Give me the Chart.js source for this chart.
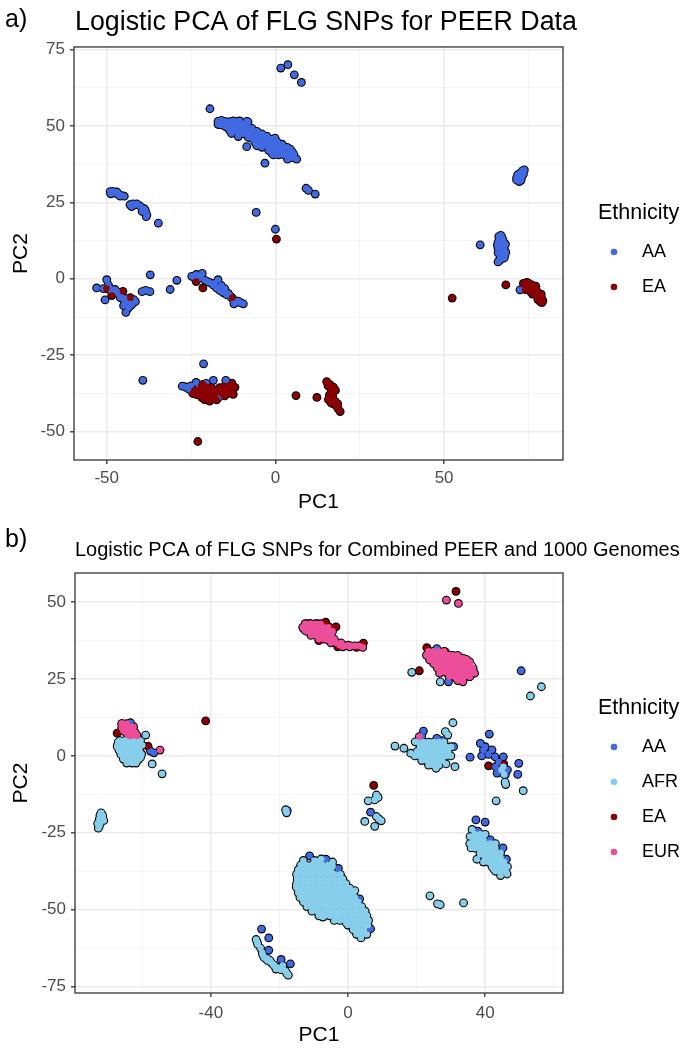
<!DOCTYPE html>
<html><head><meta charset="utf-8">
<script src="https://cdn.jsdelivr.net/npm/chart.js@4.4.1/dist/chart.umd.min.js"></script>
<style>
html,body{margin:0;padding:0;background:#fff;}
.panel{position:relative;width:687px;height:525px;}
canvas{display:block;}
</style></head>
<body>
<div class="panel"><canvas id="chartA" width="687" height="525"></canvas></div>
<div class="panel"><canvas id="chartB" width="687" height="525"></canvas></div>
<script>
// ---------- Panel a: PEER data ----------
const categoriesA = ['AA', 'EA'];
const peerAA = [[1.6,68.9],[3.7,70.0],[5.6,66.7],[7.7,64.2],[-19.4,55.6],
 [-17,50.5],[-16,51.5],[-15,50],[-14,51],[-13.5,49.5],[-12.5,50.5],[-12,48.5],[-11,51.5],[-10.5,49.5],[-10,48],[-9.5,50.5],[-9,47.5],[-8,49],[-8.5,51.5],[-7.5,47],[-7,48.5],[-6.5,46.5],[-6,48],[-5.5,45.5],[-5,47],[-4.5,46.5],[-4,45],[-3.5,46.5],[-3,44.5],[-2.5,46],[-2,44],[-1.5,45.5],[-1,43.5],[-0.5,44.5],[0,42.5],[0.5,44],[1,42],[1.5,43.5],[2,41.5],[2.5,42.5],[3,40.5],[-8.5,43.2],[-3.1,37.8],[-0.1,46],[4.4,42.4],[3.6,39.1],[6.3,39.1],[-0.6,40.5],[-11,46.5],[-13,47.5],[-16.4,50.9],[-13.4,51.4],[-10.6,51.6],[-8.1,51.3],[-1,41],[1,40.5],[-5.5,43.5],[-2,42],[5,41.5],[-4,43],[-6,44.5],
 [-17,51.5],[-16.5,50.4],[-16,51.8],[-15.5,50.2],[-15,51.5],[-14.5,49.6],[-14,51.2],[-13.5,48.4],[-13,50.2],[-12.5,51.6],[-12,49.2],[-11.5,50.8],[-11,47.6],[-10.5,48.8],[-10,50.2],[-9.5,47.4],[-9,48.8],[-8.5,50.2],[-8,46.2],[-7.5,47.6],[-7,49.2],[-6.5,45.4],[-6,46.8],[-5.5,48.2],[-5,44.6],[-4.5,46],[-4,47.4],[-3.5,43.8],[-3,45.2],[-2.5,46.6],[-2,43],[-1.5,44.4],[-1,45.6],[-0.5,42.2],[0,43.6],[0.5,44.8],[1,41.4],[1.5,42.8],[2,44],[2.5,40.6],[3,42],[3.5,43],[4,40.2],[4.5,41.2],[5,39.6],[5.5,40.6],
 [9.1,29.6],[9.8,28.9],[11.8,27.7],[-5.7,21.7],[0,16.2],
 [-49,28.5],[-48.2,28.6],[-47.5,28.0],[-46.5,27.6],[-45.5,27.2],[-43.1,24.2],[-42.2,24.5],[-41.1,24.5],[-40.1,23.8],[-38.6,22.5],[-38.1,20.9],[-38.5,21.8],[-34.7,18.2],
 [-48.8,27.8],[-47,28.4],[-46,27],[-44.8,27],[-42.6,23.6],[-41.6,24.2],[-39,23],[-39.5,22],[-38.3,20.3],
 [-53,-3],[-50,-0.3],[-49.5,-2],[-48.5,-4.5],[-47.5,-3.5],[-46.5,-5],[-45.5,-6],[-44.5,-7.5],[-44.3,-11],[-43,-8],[-42.6,-8.5],[-42,-6.8],[-41.5,-7.5],[-50.5,-6.9],[-44.7,-7.4],[-39.5,-4.2],[-38.5,-3.8],[-37.2,-4.2],[-37.1,1.3],[-31.2,-3.5],[-29.2,-0.5],
 [-51,-3.2],[-49,-3.3],[-47,-4.2],[-46,-6.2],[-44,-6.5],[-43.5,-9.5],[-45,-8.8],
 [-24.8,0.8],[-23.5,1.4],[-21.7,1.8],[-22.5,0.2],[-20.8,-0.5],[-19.5,-1.2],[-18.5,-2],[-17,-0.3],[-17.5,-3],[-16.5,-3.8],[-15.5,-4.5],[-14.5,-5.2],[-13.5,-5.5],[-12.5,-6.8],[-12.3,-8.2],[-11,-7.3],[-9.5,-8.2],[-16,-2.2],[-15,-3.2],
 [-24,0.5],[-22,1],[-20,-1],[-18,-1.5],[-14,-4.8],[-13,-6.2],[-11.8,-7.8],[-10.2,-7.9],
 [-39.3,-33.2],[-21.3,-27.8],[-27.6,-35.1],[-26.4,-35.5],[-25.5,-36.2],[-23.5,-33.9],[-18.4,-33.2],[-14.7,-33.2],[-16.9,-38.8],[-22.6,-35.6],[-20.5,-34.2],[-17.5,-37.5],[17.0,-39.2],
 [-26.8,-35.3],[-25,-35],[-24.6,-36.8],
 [71.5,33],[72.5,34.5],[73.2,35.3],[72,32.5],[73,33.2],[72.3,31.8],[71.8,34],[72.8,34],[73.5,34.2],[72.5,33],[71.5,32.3],[72.8,32.2],[73.8,35.6],
 [60.7,11.1],[66.2,13.8],[66.8,14.2],[66,12],[67.5,12.5],[66.5,10.5],[67.8,10],[66,8.5],[67.5,8],[67,6.5],[66,5.5],[68,7.5],[67,9.5],[65.8,11],
 [66.5,13],[67,11.3],[66.3,9.5],[67.3,8.8],[66.6,7],[67.8,6.8],[66.5,6],[68.3,8.6],[67.2,13.5],[66,10],[68.2,11.3],
 [72.5,-3.6],[76.5,-3.6]];
const peerEA = [[0.3,13.0],[-50.1,-3.2],[-45.2,-4.1],[-48.5,-5.5],[-43,-6.2],[-23.5,-0.9],[-21.5,-3.0],[-12.8,-6.2],
 [-23.0,-53.2],[-22.3,-36.9],[-20.8,-38.3],[-19.3,-38.9],[-17.4,-39.6],[-18.4,-36.3],[-16.5,-35.6],[-12.9,-34.1],[-12.5,-37.8],[-14,-35.5],[-20.3,-35.3],[-21.8,-38.9],[-23.3,-37.9],[-21,-37],[-19.5,-36.8],[-15.2,-36.5],[-13.5,-36.7],[-24,-36.5],
 [-22,-35],[-21,-36],[-20,-37],[-19,-35.5],[-18,-37.5],[-17,-36.5],[-16,-37.5],[-15,-35],[-14,-37.5],[-13,-36],[-22.5,-38],[-21,-39.5],[-19.5,-40],[-18,-39],[-13,-34.8],[-23,-36.5],[-21.5,-34.5],[-12,-35.5],[-19,-38],[-15,-38.3],[-24.5,-37.5],
 [6.1,-38.2],[12.3,-38.8],[15.2,-33.6],[16.2,-34.6],[17.2,-35.4],[15.7,-39.5],[16.5,-40.6],[17.7,-40.1],[18.2,-41.7],[19.2,-43.4],[16.8,-37.2],
 [16.5,-36],[17.8,-36.5],[16,-38],[17,-38.5],[17.3,-41],[18.6,-42.5],[15.6,-35],[18.5,-40.9],
 [68.3,-2.0],[52.4,-6.3],[73.5,-1.5],[74.5,-1.2],[75,-2.5],[76,-3],[76.5,-4.3],[77,-4.5],[77.5,-5.5],[78,-6.5],[78.5,-7.5],[79,-6.5],[75.5,-4],[74,-3.5],[77,-3],[78.8,-5],[79.3,-7.2],[76,-2],
 [74,-2.2],[75,-1.4],[75.8,-2.8],[76.8,-3.5],[77.5,-4],[78.2,-5.2],[76.2,-5],[77.8,-6.8],[79,-7.8],[78.5,-6],[74.8,-3.3],[77.2,-2.4]];
const xRangeA = [-59.7, 85.25];
const yRangeA = [-59.25, 75.8];
const xMajorA = [-50, 0, 50];
const xLabelsA = ['-50', '0', '50'];
const xMinorA = [-25, 25, 75];
const yMajorA = [-50, -25, 0, 25, 50, 75];
const yLabelsA = ['-50', '-25', '0', '25', '50', '75'];
const yMinorA = [-37.5, -12.5, 12.5, 37.5, 62.5];

// ---------- Panel b: combined PEER + 1000 Genomes ----------
const categoriesB = ['AA', 'AFR', 'EA', 'EUR'];
const combAA = [[-63.4,10.8],[-57.6,1.6],[-56.6,1.0],[-71.8,-19],[-17.7,-17.8],
 [25.9,34.9],[29.3,24.1],[50.5,27.7],
 [22,8.1],[25.9,5.7],[30.8,3.0],[25.9,-3.1],[21.5,6.5],[27.5,5],
 [41.2,7.1],[35.6,-0.4],[38.6,4.1],[39.5,1.9],[42,2.0],[42.9,-0.3],[45.3,-0.3],[49.8,-2.4],[49.5,-6.0],[43,-3.5],[43.5,-5.6],[45.9,-6.1],[40,3],
 [39,0],[41,0.5],[44,-2],[44.5,-4.5],[46.5,-4.5],
 [6.6,-18.3],
 [37.3,-20.8],[40.0,-21.5],[41.5,-27.3],[45.2,-29.9],[46.2,-33.6],[42,-31.8],[37.9,-24.5],
 [-11.2,-32.5],[-6.4,-33.6],[-2.8,-36.6],[3.4,-46.5],[6.6,-56.2],[-1.6,-41.1],[-8,-44],[-2,-47],[1,-50],
 [-25.2,-56.3],[-23.1,-59.2],[-23.1,-63.2],[-19.5,-66.2],[-16.8,-67.6]];
const combAFR = [[-67,4.5],[-66,3.5],[-65,5],[-64,4],[-63,3],[-62,4.5],[-61,3.5],[-66.5,1.5],[-65,1],[-64,2],[-63,0.5],[-62,1.5],[-61,0.5],[-65.5,-0.5],[-64,-1],[-61.5,-1.5],[-60.5,-0.5],[-67.3,3],[-62.5,6],[-59,6.8],[-57.1,-2.6],[-54.2,-5.8],[-63,-2],
 [-66.5,5],[-65,5],[-63.5,5],[-62,5],[-60.5,5],[-67.2,3.5],[-65.8,3.5],[-64.3,3.5],[-62.8,3.5],[-61.3,3.5],[-60,3.5],[-66.8,2],[-65.3,2],[-63.8,2],[-62.3,2],[-60.8,2],[-66.2,0.5],[-64.7,0.5],[-63.2,0.5],[-61.7,0.5],[-60.2,0.5],[-65.5,-1],[-64,-1],[-62.5,-1],[-61,-1],[-64.5,-2.3],[-63,-2.3],[-61.8,-2.3],
 [-72,-18.5],[-71.5,-19.5],[-72.5,-20.5],[-71.2,-21],[-73,-22],[-72.8,-23.5],[-72.3,-19.3],[-71.8,-20.2],[-72.2,-21.8],[-72.5,-22.8],[-18.2,-17.5],[-17.9,-18.5],
 [30.6,10.8],[28.4,7.9],[29.1,6.8],[13.7,3.2],[16.3,2.5],[18.3,0.9],[19.6,4.6],[31.2,-3.5],[28.6,-2.6],[25.7,-4.0],
 [20.5,4.5],[22,4.5],[23.5,4.5],[25,4.5],[26.5,4.5],[28,4.5],[21,3],[22.5,3],[24,3],[25.5,3],[27,3],[28.5,3],[30,3],[20.2,1.5],[21.7,1.5],[23.2,1.5],[24.7,1.5],[26.2,1.5],[27.7,1.5],[29.2,1.5],[19.5,0],[21,0],[22.5,0],[24,0],[25.5,0],[27,0],[28.5,0],[30,0],[21.5,-1.5],[23,-1.5],[24.5,-1.5],[26,-1.5],[27.5,-1.5],[23.5,-3],[25,-3],[26.5,-3],
 [8.3,-12.7],[7.8,-14.3],[5.9,-14.6],[8.3,-19.7],[9.7,-21.1],[4.9,-21.3],[7.8,-22.9],[9,-20.5],[8.8,-13.5],
 [45.3,-3.5],[45.5,-6],[45.8,-8.5],[46,-9.3],[51.1,-11.3],[43.2,-14.6],[44.8,-4.5],
 [18.6,27.2],[26.9,24.1],[36.1,29.3],[56.4,22.5],[53.2,19.5],
 [35.6,-26.2],[37.6,-29.4],[39.5,-27.8],[38.6,-32],[37.6,-33.6],[41.5,-34.7],[43.5,-33.6],[42.5,-36.8],[45.4,-35.8],[46.4,-38.4],[44.5,-38.9],[35.9,-29.9],[41.3,-29.9],[38.7,-25.6],[36.2,-23.9],[40,-31],[43,-31.5],[44,-36],[39.5,-34.5],
 [37,-25.5],[38.5,-25.5],[40,-25.5],[36.5,-27],[38,-27],[39.5,-27],[35.5,-28.5],[37,-28.5],[38.5,-28.5],[40,-28.5],[41.5,-28.5],[43,-28.5],[37,-30],[38.5,-30],[40,-30],[41.5,-30],[43,-30],[38.5,-31.5],[40,-31.5],[41.5,-31.5],[43,-31.5],[44.5,-31.5],[40,-33],[41.5,-33],[43,-33],[44.5,-33],[41,-34.5],[42.5,-34.5],[44,-34.5],[45.5,-34.5],[42,-36],[43.5,-36],[45,-36],[46.5,-36],[43,-37.5],[44.5,-37.5],[46,-37.5],
 [23.9,-45.5],[26.1,-48.1],[26.9,-48.4],[33.7,-47.8],
 [-13,-34],[-9.8,-34],[-8.2,-34],[-4.5,-34.5],
 [-13.8,-35.5],[-12.2,-35.5],[-10.6,-35.5],[-9,-35.5],[-7.4,-35.5],[-5.8,-35.5],[-4.5,-35.8],
 [-14.5,-37],[-12.9,-37],[-11.3,-37],[-9.7,-37],[-8.1,-37],[-6.5,-37],[-4.9,-37],
 [-15,-38.5],[-13.4,-38.5],[-11.8,-38.5],[-10.2,-38.5],[-8.6,-38.5],[-7,-38.5],[-5.4,-38.5],[-3.8,-38.5],[-2.2,-38.5],
 [-14.8,-40],[-13.2,-40],[-11.6,-40],[-10,-40],[-8.4,-40],[-6.8,-40],[-5.2,-40],[-3.6,-40],[-2,-40],[-1.5,-40],
 [-15,-41.5],[-13.4,-41.5],[-11.8,-41.5],[-10.2,-41.5],[-8.6,-41.5],[-7,-41.5],[-5.4,-41.5],[-3.8,-41.5],[-2.2,-41.5],[-0.6,-41.5],
 [-14.8,-43],[-13.2,-43],[-11.6,-43],[-10,-43],[-8.4,-43],[-6.8,-43],[-5.2,-43],[-3.6,-43],[-2,-43],[-0.4,-43],[0.5,-43],
 [-14.5,-44.5],[-12.9,-44.5],[-11.3,-44.5],[-9.7,-44.5],[-8.1,-44.5],[-6.5,-44.5],[-4.9,-44.5],[-3.3,-44.5],[-1.7,-44.5],[-0.1,-44.5],[1.5,-44.5],
 [-14,-46],[-12.4,-46],[-10.8,-46],[-9.2,-46],[-7.6,-46],[-6,-46],[-4.4,-46],[-2.8,-46],[-1.2,-46],[0.4,-46],[2,-46],
 [-13,-47.5],[-11.4,-47.5],[-9.8,-47.5],[-8.2,-47.5],[-6.6,-47.5],[-5,-47.5],[-3.4,-47.5],[-1.8,-47.5],[-0.2,-47.5],[1.4,-47.5],[3,-47.5],
 [-12,-49],[-10.4,-49],[-8.8,-49],[-7.2,-49],[-5.6,-49],[-4,-49],[-2.4,-49],[-0.8,-49],[0.8,-49],[2.4,-49],[4,-49],
 [-10.5,-50.5],[-8.9,-50.5],[-7.3,-50.5],[-5.7,-50.5],[-4.1,-50.5],[-2.5,-50.5],[-0.9,-50.5],[0.7,-50.5],[2.3,-50.5],[3.9,-50.5],[5,-50.5],
 [-8.5,-52],[-6.9,-52],[-5.3,-52],[-3.7,-52],[-2.1,-52],[-0.5,-52],[1.1,-52],[2.7,-52],[4.3,-52],[5.5,-52],
 [-4,-53.5],[-2.4,-53.5],[-0.8,-53.5],[0.8,-53.5],[2.4,-53.5],[4,-53.5],[5.6,-53.5],[6,-53.5],
 [0,-55],[1.6,-55],[3.2,-55],[4.8,-55],[5.8,-55],[1.5,-56.5],[3.1,-56.5],[4.7,-56.5],[2.5,-58],[4.1,-58],[5.5,-58],[3.8,-59.2],
 [-15.1,-42.6],[-7.8,-33.5],[-7.3,-52.4],[-0.5,-54.3],[0,-54.9],[2.0,-43.8],[-14.6,-38.1],
 [-26.8,-59.7],[-26.3,-61.3],[-24.4,-65.6],[-22.4,-67.2],[-21,-69.3],[-19,-68.2],[-17.4,-71.3],[-21.5,-68.2],[-25,-64],[-23.5,-66.5],
 [-26.5,-60.5],[-25.5,-62.5],[-24.8,-64.8],[-23.6,-65.8],[-22.8,-66.5],[-21.8,-67.8],[-20.4,-68.8],[-19.6,-69.5],[-18.2,-70],[-17.8,-70.8]];
const combEA = [[-67.3,7.4],[-60.5,3.6],[-58.3,3.2],[-60.3,0.9],[-41.5,11.4],[-65,10],
 [-12,43],[-9,43],[-7.5,42.8],[-5.5,42],[-4.5,41.5],[-3.5,42],[-8.5,37.5],[-3,35.5],[4.5,36.7],[2.5,35.3],[-6.5,43.5],
 [23,35.2],[28.3,33.9],[20.8,27.7],[31.5,53.5],[26,32],[32,30],
 [7.5,-9.6],[41,-3.2],[45.4,-2.6]];
const combEUR = [[-66,10.5],[-65,9.5],[-64,9],[-63,8.5],[-62,7.5],[-61.5,6.5],[-64.5,7.5],[-63.5,6.5],[-65.5,8.2],[-62.5,9.5],[-54.8,1.9],
 [-65.8,10.5],[-64.5,10.5],[-66,9.2],[-64.7,9.2],[-63.3,9.2],[-65.2,8],[-63.8,8],[-62.5,8],[-64.2,6.8],[-62.8,6.8],[-61.6,6.8],
 [-13,41.5],[-12,42.5],[-11,41],[-10,42],[-9.5,40.5],[-8.5,41.5],[-8,40],[-7,41],[-6.5,39.5],[-5.5,40],[-5,38.5],[-6,37.8],[-7.5,38.8],[-10.5,40],[-12.5,40.8],[-4,37.5],[-2.4,36],[0,36],[0.5,35.5],[-1.5,35.5],[4.3,35.3],[-11,43],
 [-12.5,43],[-11,43],[-9.5,43],[-8,43],[-13.2,41.8],[-11.7,41.8],[-10.2,41.8],[-8.7,41.8],[-7.2,41.8],[-5.8,41.8],[-12,40.5],[-10.5,40.5],[-9,40.5],[-7.5,40.5],[-6,40.5],[-4.5,40.5],[-10.8,39.2],[-9.3,39.2],[-7.8,39.2],[-6.3,39.2],[-4.8,39.2],[-8.5,38],[-7,38],[-5.5,38],[-4,38],[-5,36.8],[-3.5,36.8],[-2,36.8],[-1,35.8],[0.8,35.8],[2,35.8],[3.2,35.8],
 [28.7,50.7],[32.2,49.6],
 [23.8,33.4],[25.8,32.3],[27.7,32.8],[29.7,32.8],[31.6,32.3],[33.5,31.8],[35.5,30.6],[36.4,27.9],[35.5,25.8],[33.5,24.1],[31.6,25.3],[29.7,26.9],[27.7,27.9],[25.8,30.1],[23.8,31.2],[32.6,29.0],[30.6,30.1],[34.5,27.9],[28.7,30.6],[26.7,26.9],[33.1,26.3],[35.0,29.0],[36.9,26.9],[22.9,32.8],[24.8,33.9],
 [23.5,34],[25,34],[26.5,34],[28,34],[23,32.7],[24.5,32.7],[26,32.7],[27.5,32.7],[29,32.7],[30.5,32.7],[32,32.7],[24,31.4],[25.5,31.4],[27,31.4],[28.5,31.4],[30,31.4],[31.5,31.4],[33,31.4],[34.5,31.4],[25,30],[26.5,30],[28,30],[29.5,30],[31,30],[32.5,30],[34,30],[35.5,30],[26,28.6],[27.5,28.6],[29,28.6],[30.5,28.6],[32,28.6],[33.5,28.6],[35,28.6],[36.5,28.6],[27,27.2],[28.5,27.2],[30,27.2],[31.5,27.2],[33,27.2],[34.5,27.2],[36,27.2],[29.5,25.8],[31,25.8],[32.5,25.8],[34,25.8],[35.5,25.8],[32,24.5],[33.5,24.5],
 [20.8,6.3]];
const xRangeB = [-79.6, 62.7];
const yRangeB = [-77.1, 59.5];
const xMajorB = [-40, 0, 40];
const xLabelsB = ['-40', '0', '40'];
const xMinorB = [-60, -20, 20, 60];
const yMajorB = [-75, -50, -25, 0, 25, 50];
const yLabelsB = ['-75', '-50', '-25', '0', '25', '50'];
const yMinorB = [-62.5, -37.5, -12.5, 12.5, 37.5];

// ---------- rendering ----------
const FONT = '"Liberation Sans", Arial, Helvetica, sans-serif';
const toXY = a => a.map(p => ({x: p[0], y: p[1]}));
const dotCache = {};
function legendDot(color) {
  if (dotCache[color]) return dotCache[color];
  const c = document.createElement('canvas');
  c.width = 30; c.height = 10;
  const g = c.getContext('2d');
  g.fillStyle = color; g.beginPath(); g.arc(5, 5, 3.3, 0, Math.PI * 2); g.fill();
  dotCache[color] = c;
  return c;
}

const decoPlugin = {
  id: 'deco',
  afterLayout(chart, args, o) {
    const t = chart.titleBlock;
    if (t) { t.left = o.titleLeft; t.right = chart.width; t.width = t.right - t.left; }
    const lg = chart.legend;
    if (lg) {
      lg.left = o.legendLeft; lg.top = o.legendTop;
      lg.right = chart.width; lg.bottom = chart.height;
      lg.width = lg.right - lg.left; lg.height = lg.bottom - lg.top;
    }
  },
  afterDraw(chart, args, o) {
    const ctx = chart.ctx, a = chart.chartArea;
    ctx.save();
    ctx.strokeStyle = '#333'; ctx.lineWidth = 1.3;
    ctx.strokeRect(a.left, a.top, a.right - a.left, a.bottom - a.top);
    ctx.fillStyle = '#000'; ctx.font = o.tagSize + 'px ' + FONT;
    ctx.textAlign = 'left'; ctx.textBaseline = 'alphabetic';
    ctx.fillText(o.tag, o.tagX, o.tagY);
    ctx.restore();
  }
};

function axisCfg(o, major, labels, minor, range, isX) {
  const all = major.concat(minor).sort((p, q) => p - q);
  const isMajor = v => major.indexOf(v) >= 0;
  return {
    type: 'linear', position: isX ? 'bottom' : 'left',
    min: range[0], max: range[1],
    afterBuildTicks: s => { s.ticks = all.map(v => ({value: v})); },
    afterFit: s => { if (isX) s.height = o.xAxisHeight; else s.width = o.yAxisWidth; },
    ticks: {
      autoSkip: false, maxRotation: 0, minRotation: 0,
      padding: isX ? o.xTickPad : 5,
      color: '#4D4D4D', font: {family: FONT, size: 17},
      callback: v => { const i = major.indexOf(v); return i >= 0 ? labels[i] : ''; }
    },
    grid: {
      color: c => (c.tick && isMajor(c.tick.value)) ? '#EBEBEB' : '#F2F2F2',
      lineWidth: c => (c.tick && isMajor(c.tick.value)) ? 1.6 : 0.9,
      tickLength: 4, tickWidth: 1.3,
      tickColor: c => (c.tick && isMajor(c.tick.value)) ? '#333333' : 'rgba(0,0,0,0)'
    },
    border: {display: false},
    title: {
      display: true, text: isX ? 'PC1' : 'PC2', color: '#000',
      font: {family: FONT, size: 21, lineHeight: 1.2},
      padding: isX ? {top: 0, bottom: o.xTitlePad} : {top: 9, bottom: 0}
    }
  };
}

function buildChart(id, o) {
  const datasets = o.groups.map(g => ({
    label: g.label, data: toXY(g.data), backgroundColor: g.color,
    borderWidth: 0, pointRadius: 3.3, pointHoverRadius: 3.3, order: g.order
  }));
  const all = o.groups.reduce((acc, g) => acc.concat(g.data), []);
  datasets.push({label: 'outline', data: toXY(all), backgroundColor: '#000', borderWidth: 0,
    pointRadius: 4.4, pointHoverRadius: 4.4, order: 99});
  return new Chart(document.getElementById(id), {
    type: 'scatter',
    data: {datasets},
    options: {
      responsive: false, animation: false, events: [], devicePixelRatio: 1,
      layout: {padding: {left: 0, right: 124, top: 0, bottom: 0}},
      plugins: {
        title: {display: true, text: o.title, align: 'start', color: '#000',
          font: {family: FONT, size: o.titleSize, weight: 'normal', lineHeight: 1.2},
          padding: {top: o.titlePadTop, bottom: o.titlePadBottom}},
        legend: {
          display: true, position: 'chartArea', align: 'start',
          title: {display: true, text: 'Ethnicity', position: 'start', color: '#000',
            font: {family: FONT, size: 21.5, lineHeight: 1.1}, padding: {top: 0, bottom: 0}},
          labels: {
            color: '#000', font: {family: FONT, size: 18},
            usePointStyle: true, boxWidth: 18, boxHeight: 6, padding: 17,
            generateLabels: chart => Chart.defaults.plugins.legend.labels.generateLabels(chart)
              .filter(it => chart.data.datasets[it.datasetIndex].label !== 'outline')
              .sort((p, q) => p.datasetIndex - q.datasetIndex)
              .map(it => Object.assign(it, {pointStyle: legendDot(it.fillStyle), lineWidth: 0, strokeStyle: 'rgba(0,0,0,0)'}))
          }
        },
        tooltip: {enabled: false},
        deco: {titleLeft: 75, legendLeft: 598, legendTop: o.legendTop, tag: o.tag, tagX: 5, tagY: o.tagY, tagSize: 25}
      },
      scales: {
        x: axisCfg(o, o.xMajor, o.xLabels, o.xMinor, o.xRange, true),
        y: axisCfg(o, o.yMajor, o.yLabels, o.yMinor, o.yRange, false)
      }
    },
    plugins: [decoPlugin]
  });
}

buildChart('chartA', {
  title: 'Logistic PCA of FLG SNPs for PEER Data', titleSize: 26.8, titlePadTop: 6.4, titlePadBottom: 8.4,
  tag: 'a)', tagY: 26.5, legendTop: 202.25,
  xAxisHeight: 65, yAxisWidth: 74, xTickPad: 4, xTitlePad: 10.4,
  xRange: xRangeA, yRange: yRangeA, xMajor: xMajorA, xLabels: xLabelsA, xMinor: xMinorA,
  yMajor: yMajorA, yLabels: yLabelsA, yMinor: yMinorA,
  groups: [
    {label: categoriesA[0], data: peerAA, color: '#4169E1', order: 2},
    {label: categoriesA[1], data: peerEA, color: '#8B0000', order: 1}
  ]
});

buildChart('chartB', {
  title: 'Logistic PCA of FLG SNPs for Combined PEER and 1000 Genomes', titleSize: 20, titlePadTop: 13.5, titlePadBottom: 10.5,
  tag: 'b)', tagY: 22, legendTop: 172.25,
  xAxisHeight: 57, yAxisWidth: 75, xTickPad: 6, xTitlePad: 2.4,
  xRange: xRangeB, yRange: yRangeB, xMajor: xMajorB, xLabels: xLabelsB, xMinor: xMinorB,
  yMajor: yMajorB, yLabels: yLabelsB, yMinor: yMinorB,
  groups: [
    {label: categoriesB[0], data: combAA, color: '#4169E1', order: 4},
    {label: categoriesB[1], data: combAFR, color: '#87CEEB', order: 2},
    {label: categoriesB[2], data: combEA, color: '#8B0000', order: 3},
    {label: categoriesB[3], data: combEUR, color: '#EC4E9A', order: 1}
  ]
});
</script>
</body></html>
